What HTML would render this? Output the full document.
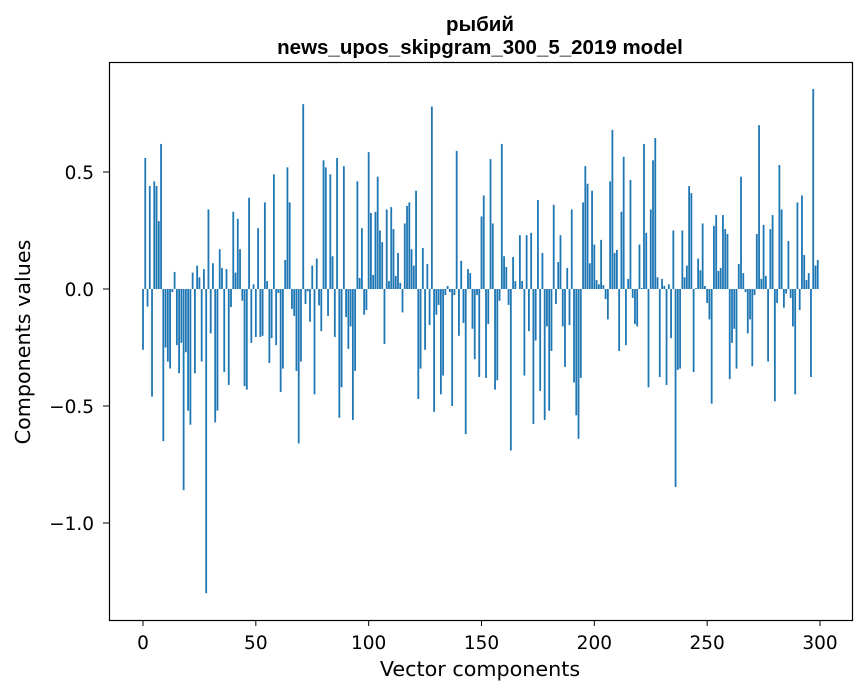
<!DOCTYPE html>
<html><head><meta charset="utf-8"><style>
body{margin:0;background:#fff;}
svg{display:block;font-family:"DejaVu Sans","Liberation Sans",sans-serif;}
</style></head><body>
<svg id="chart" width="867" height="696" viewBox="0 0 867 696" xmlns="http://www.w3.org/2000/svg">
<rect width="867" height="696" fill="#fff"/>
<text x="480" y="31" text-anchor="middle" font-size="20.5" font-weight="bold" font-family="Liberation Sans, sans-serif">рыбий</text>
<text x="480" y="54" text-anchor="middle" font-size="20.5" font-weight="bold" font-family="Liberation Sans, sans-serif">news_upos_skipgram_300_5_2019 model</text>
<g id="bars"></g>
<g id="xticks"></g>
<g id="yticks"></g>
<rect x="109.5" y="62.5" width="743" height="558" fill="none" stroke="#000" stroke-width="1.2"/>
<text x="480" y="676" text-anchor="middle" font-size="20.7">Vector components</text>
<text transform="translate(30,342) rotate(-90)" text-anchor="middle" font-size="20.7">Components values</text>
</svg>
<script>
const values = [
-0.26,0.56,-0.075,0.44,-0.46,0.46,0.44,0.29,0.62,-0.65,
-0.25,-0.31,-0.34,-0.013,0.073,-0.24,-0.36,-0.23,-0.86,-0.27,
-0.52,-0.58,0.07,-0.36,0.10,0.05,-0.31,0.085,-1.30,0.34,
-0.19,0.11,-0.57,-0.52,0.17,0.09,-0.355,0.085,-0.41,-0.077,
0.33,0.07,0.30,0.17,-0.05,-0.415,-0.43,0.39,-0.23,0.02,
-0.205,0.26,-0.205,-0.2,0.37,0.034,-0.316,-0.21,0.49,-0.24,
-0.017,-0.44,-0.34,0.124,0.52,0.37,-0.085,-0.115,-0.35,-0.66,
-0.31,0.79,-0.064,-0.01,-0.14,0.10,-0.45,0.13,-0.07,-0.18,
0.55,0.52,-0.115,0.49,0.14,-0.205,0.56,-0.55,-0.42,0.525,
-0.12,-0.256,-0.16,-0.56,-0.35,0.46,0.047,0.26,-0.11,-0.09,
0.585,0.325,0.06,0.33,0.48,0.25,0.20,-0.235,0.34,0.034,
0.35,0.256,0.056,0.154,0.026,-0.10,0.28,0.355,0.37,0.17,
0.10,0.42,-0.47,-0.34,0.175,-0.26,0.107,-0.154,0.78,-0.525,
-0.11,-0.068,-0.45,-0.37,-0.026,0.013,-0.013,-0.50,-0.026,0.59,
-0.20,0.12,-0.145,-0.62,0.085,0.068,-0.17,-0.30,-0.026,-0.376,
0.31,0.40,-0.38,-0.15,0.555,0.28,-0.43,-0.39,-0.05,0.62,
0.14,0.094,-0.068,-0.69,0.137,0.034,0.0,0.23,0.034,-0.37,
0.23,-0.18,0.24,-0.577,-0.22,0.38,-0.436,0.154,-0.56,-0.16,
-0.52,-0.265,0.36,-0.064,0.115,0.23,-0.16,-0.333,0.09,-0.154,
0.34,-0.40,-0.54,-0.64,-0.38,0.37,0.525,0.45,0.11,0.42,
0.19,0.038,0.02,0.21,0.017,-0.043,-0.13,0.46,0.68,0.154,
0.167,-0.265,0.33,0.565,-0.24,0.043,0.466,-0.038,-0.15,-0.16,
0.19,0.004,0.62,0.24,-0.42,0.34,0.55,0.645,0.05,-0.376,
0.043,0.013,-0.41,0.02,-0.21,0.25,-0.846,-0.346,-0.34,0.25,
0.05,0.10,0.44,0.41,-0.355,0.004,0.13,0.08,0.28,0.013,
-0.06,-0.13,-0.49,0.27,0.316,0.077,0.09,0.316,0.256,0.235,
-0.385,-0.23,-0.17,-0.34,0.107,0.48,0.068,-0.013,-0.19,-0.13,
-0.33,-0.026,0.235,0.70,0.043,0.274,0.056,-0.31,0.256,0.316,
-0.48,-0.06,0.53,0.34,-0.08,-0.02,0.205,-0.038,-0.16,-0.45,
0.37,-0.09,0.40,0.145,0.038,0.068,-0.376,0.855,0.10,0.124
];
const xTickValues = [0,50,100,150,200,250,300];
const yTickValues = [-1.0,-0.5,0.0,0.5];
const yTickLabels = ["\u22121.0","\u22120.5","0.0","0.5"];

const NS="http://www.w3.org/2000/svg";
function xs(v){return 143+v*(677/300);}
function ys(v){return 289-v*234;}
const bars=document.getElementById('bars');
values.forEach((v,i)=>{
  const r=document.createElementNS(NS,'rect');
  const w=0.8*(677/300);
  r.setAttribute('x',xs(i)-w/2);
  r.setAttribute('width',w);
  r.setAttribute('y',Math.min(ys(v),ys(0)));
  r.setAttribute('height',Math.abs(ys(v)-ys(0)));
  r.setAttribute('fill','#1f77b4');
  
  
  bars.appendChild(r);
});
const xg=document.getElementById('xticks');
xTickValues.forEach(t=>{
  const l=document.createElementNS(NS,'line');
  l.setAttribute('x1',xs(t));l.setAttribute('x2',xs(t));
  l.setAttribute('y1',620);l.setAttribute('y2',626);
  l.setAttribute('stroke','#000');
  
  
  xg.appendChild(l);
  const tx=document.createElementNS(NS,'text');
  tx.setAttribute('x',xs(t));tx.setAttribute('y',649);
  tx.setAttribute('text-anchor','middle');tx.setAttribute('font-size','18.5');
  tx.textContent=t;
  
  
  xg.appendChild(tx);
});
const yg=document.getElementById('yticks');
yTickValues.forEach((t,k)=>{
  const l=document.createElementNS(NS,'line');
  l.setAttribute('x1',103);l.setAttribute('x2',109);
  l.setAttribute('y1',ys(t));l.setAttribute('y2',ys(t));
  l.setAttribute('stroke','#000');
  
  
  yg.appendChild(l);
  const tx=document.createElementNS(NS,'text');
  tx.setAttribute('x',94);tx.setAttribute('y',ys(t)+7);
  tx.setAttribute('text-anchor','end');tx.setAttribute('font-size','18.5');
  tx.textContent=yTickLabels[k];
  
  
  yg.appendChild(tx);
});
</script>
</body></html>
